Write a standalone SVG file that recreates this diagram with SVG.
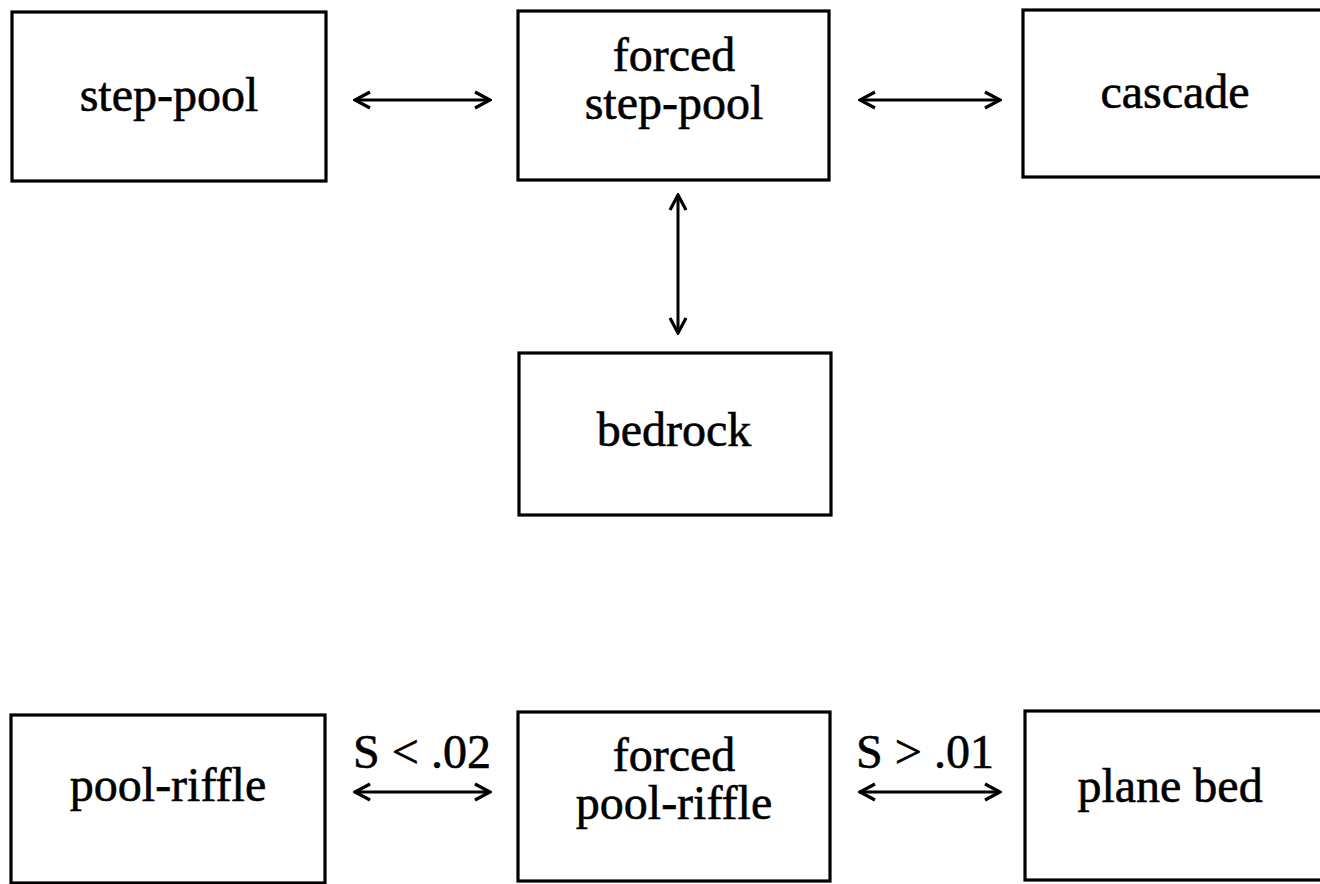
<svg xmlns="http://www.w3.org/2000/svg" width="1320" height="884" viewBox="0 0 1320 884">
<defs>
<marker id="ah" viewBox="0 0 20 20" refX="18" refY="10" markerWidth="20" markerHeight="20" markerUnits="userSpaceOnUse" orient="auto-start-reverse">
<path d="M3,2 L18,10 L3,18" fill="none" stroke="#000" stroke-width="3.2" stroke-linejoin="miter"/>
</marker>
</defs>
<style>
.box{fill:#fff;stroke:#000;stroke-width:3.2}
.lbl{font-family:"Liberation Serif","Times New Roman",serif;font-size:48px;fill:#000;stroke:#000;stroke-width:0.6;text-anchor:middle}
.con{stroke:#000;stroke-width:3;fill:none;marker-start:url(#ah);marker-end:url(#ah)}
</style>
<rect width="1320" height="884" fill="#fff"/>
<g id="step-pool"><rect class="box" x="12" y="12" width="314" height="169"/><text class="lbl" x="169" y="111">step-pool</text></g>
<g id="forced-step-pool"><rect class="box" x="518" y="11" width="311" height="169"/><text class="lbl" x="674" y="71">forced</text><text class="lbl" x="674" y="119">step-pool</text></g>
<g id="cascade"><rect class="box" x="1023" y="10" width="310" height="167"/><text class="lbl" x="1175" y="108">cascade</text></g>
<g id="bedrock"><rect class="box" x="519" y="353" width="312" height="162"/><text class="lbl" x="674" y="446">bedrock</text></g>
<g id="pool-riffle"><rect class="box" x="11" y="715" width="314" height="168"/><text class="lbl" x="168" y="801">pool-riffle</text></g>
<g id="forced-pool-riffle"><rect class="box" x="518" y="712" width="312" height="169"/><text class="lbl" x="674" y="771">forced</text><text class="lbl" x="674" y="819">pool-riffle</text></g>
<g id="plane-bed"><rect class="box" x="1025" y="711" width="310" height="169"/><text class="lbl" x="1170" y="802">plane bed</text></g>
<g id="connectors">
<line class="con" x1="355" y1="100" x2="490" y2="100"/>
<line class="con" x1="860" y1="100" x2="1000" y2="100"/>
<line class="con" x1="678" y1="195" x2="678" y2="333"/>
<line class="con" x1="355" y1="792" x2="490" y2="792"/>
<line class="con" x1="860" y1="792" x2="1000" y2="792"/>
<text class="lbl" x="422" y="768">S &lt; .02</text>
<text class="lbl" x="925" y="768">S &gt; .01</text>
</g>
</svg>
